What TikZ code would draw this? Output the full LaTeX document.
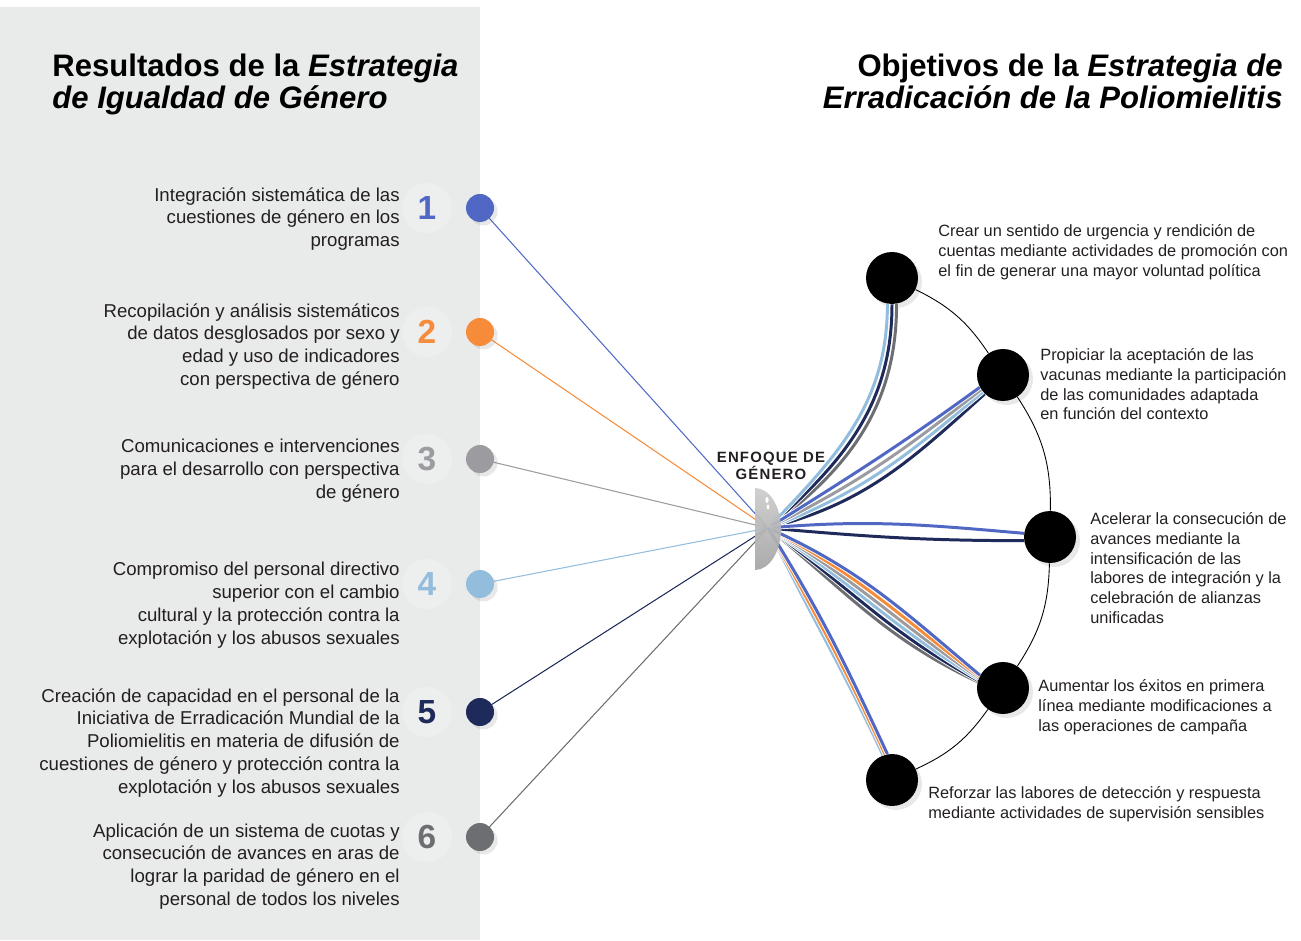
\documentclass[tikz,border=0pt]{standalone}
\usepackage{fontspec}
\setmainfont{Liberation Sans}
\usetikzlibrary{shadows}

\definecolor{azul}{RGB}{80,104,196}
\definecolor{naranja}{RGB}{246,139,58}
\definecolor{gris}{RGB}{156,156,160}
\definecolor{celeste}{RGB}{146,189,221}
\definecolor{marino}{RGB}{30,42,90}
\definecolor{plomo}{RGB}{109,110,114}
\definecolor{panel}{RGB}{233,234,234}
\definecolor{tinta}{RGB}{35,31,32}

\newcommand\txtizq{\fontsize{10.6}{13}\selectfont}
\newcommand\txtder{\fontsize{9.3}{11.3}\selectfont}
\newcommand\txttit{\fontsize{17.7}{18}\selectfont\bfseries}
\newcommand\txtnum{\fontsize{19}{19}\selectfont\bfseries}
\newcommand\txtlente{\fontsize{8.5}{9.6}\selectfont\bfseries\addfontfeatures{LetterSpace=8}}

\tikzset{
  punto/.style={circle, minimum size=0.56cm, inner sep=0pt,
    drop shadow={shadow xshift=0.07cm, shadow yshift=-0.07cm, opacity=0.18}},
  meta/.style={circle, fill=black, minimum size=1.04cm, inner sep=0pt,
    drop shadow={shadow xshift=0.08cm, shadow yshift=-0.08cm, opacity=0.18}},
  enlace/.style={line width=0.6pt},
  haz/.style={line width=1.7pt, preaction={draw=white, line width=2.7pt}},
  arco/.style={line width=0.5pt, black},
  izq/.style={font=\txtizq, text=tinta, align=right, anchor=north east, inner sep=0pt},
  der/.style={font=\txtder, text=tinta, align=left, anchor=north west, inner sep=0pt},
}

\begin{document}
\begin{tikzpicture}[x=0.02cm, y=0.02cm]
  \useasboundingbox (0,0) rectangle (1301,940);

  % Left panel
  \fill[panel] (0,0) rectangle (480,933);

  % Titles
  \node[font=\txttit, align=left, anchor=north west, inner sep=0pt] (titizq) at (52,886)
    {Resultados de la \textit{Estrategia}\\\textit{de Igualdad de Género}};
  \node[font=\txttit, align=right, anchor=north east, inner sep=0pt] (titder) at (1283,886)
    {Objetivos de la \textit{Estrategia de}\\\textit{Erradicación de la Poliomielitis}};

  % Focal point of the lens
  \coordinate (foco) at (768,412);

  % Outcome dots and numbers
  \foreach \i/\y/\c in {1/732/azul, 2/608/naranja, 3/481/gris, 4/356/celeste, 5/228/marino, 6/103/plomo} {
    \fill[white, opacity=0.22] (427,\y) circle[radius=25];
    \node[font=\txtnum, text=\c] (n\i) at (427,\y) {\i};
    \draw[enlace, \c] (480,\y) -- (foco);
    \node[punto, fill=\c] (r\i) at (480,\y) {};
  }

  % Outcome texts
  \node[izq] (t1) at (400,753) {Integración sistemática de las\\cuestiones de género en los\\programas};
  \node[izq] (t2) at (400,637) {Recopilación y análisis sistemáticos\\de datos desglosados por sexo y\\edad y uso de indicadores\\con perspectiva de género};
  \node[izq] (t3) at (400,501) {Comunicaciones e intervenciones\\para el desarrollo con perspectiva\\de género};
  \node[izq] (t4) at (400,378) {Compromiso del personal directivo\\superior con el cambio\\cultural y la protección contra la\\explotación y los abusos sexuales};
  \node[izq] (t5) at (400,252) {Creación de capacidad en el personal de la\\Iniciativa de Erradicación Mundial de la\\Poliomielitis en materia de difusión de\\cuestiones de género y protección contra la\\explotación y los abusos sexuales};
  \node[izq] (t6) at (400,117) {Aplicación de un sistema de cuotas y\\consecución de avances en aras de\\lograr la paridad de género en el\\personal de todos los niveles};

  % Objective dots
  \node[meta] (o1) at (892,662) {};
  \node[meta] (o2) at (1003,565) {};
  \node[meta] (o3) at (1050,403) {};
  \node[meta] (o4) at (1003,252) {};
  \node[meta] (o5) at (892,160) {};

  % Bundles from the lens to each objective
  \draw[haz, plomo] (foco) to[out=36, in=-90] (o1.-80);
  \draw[haz, marino] (foco) to[out=41, in=-90] (o1.-90);
  \draw[haz, celeste] (foco) to[out=46, in=-90] (o1.-100);

  \draw[haz, marino] (foco) to[out=14, in=-138] (o2.-134);
  \draw[haz, celeste] (foco) to[out=20, in=-140] (o2.-140);
  \draw[haz, gris] (foco) to[out=26, in=-142] (o2.-146);
  \draw[haz, azul] (foco) to[out=32, in=-144] (o2.-152);

  \draw[haz, marino] (foco) to[out=-5, in=180] (o3.188);
  \draw[haz, azul] (foco) to[out=5, in=175] (o3.172);

  \draw[haz, plomo] (foco) to[out=-39, in=155] (o4.166);
  \draw[haz, marino] (foco) to[out=-36, in=152] (o4.163);
  \draw[haz, celeste] (foco) to[out=-33, in=149] (o4.160);
  \draw[haz, gris] (foco) to[out=-30, in=146] (o4.157);
  \draw[haz, naranja] (foco) to[out=-27, in=143] (o4.154);
  \draw[haz, azul] (foco) to[out=-24, in=140] (o4.151);

  \draw[haz, celeste] (foco) to[out=-64, in=115] (o5.110);
  \draw[haz, naranja] (foco) to[out=-61, in=115] (o5.105);
  \draw[haz, azul] (foco) to[out=-58, in=115] (o5.100);

  % Arc through the objectives
  \draw[arco] (o1) to[bend left=15] (o2);
  \draw[arco] (o2) to[bend left=17] (o3);
  \draw[arco] (o3) to[bend left=16] (o4);
  \draw[arco] (o4) to[bend left=15] (o5);

  % Lens
  \shade[top color=gray!40, middle color=gray!10, bottom color=gray!72, opacity=0.92]
    (755,452) arc[start angle=90, end angle=-90, x radius=26, y radius=41] -- cycle;
  \fill[white] (767,440) ellipse[x radius=1.6, y radius=3];
  \fill[white] (768,433) ellipse[x radius=1.4, y radius=2.5];
  \node[font=\txtlente, align=center, text=tinta] (lente) at (771,474) {ENFOQUE DE\\GÉNERO};

  % Objective texts
  \node[der] (d1) at (938,716) {Crear un sentido de urgencia y rendición de\\cuentas mediante actividades de promoción con\\el fin de generar una mayor voluntad política};
  \node[der] (d2) at (1040,592) {Propiciar la aceptación de las\\vacunas mediante la participación\\de las comunidades adaptada\\en función del contexto};
  \node[der] (d3) at (1090,428) {Acelerar la consecución de\\avances mediante la\\intensificación de las\\labores de integración y la\\celebración de alianzas\\unificadas};
  \node[der] (d4) at (1038,261) {Aumentar los éxitos en primera\\línea mediante modificaciones a\\las operaciones de campaña};
  \node[der] (d5) at (928,154) {Reforzar las labores de detección y respuesta\\mediante actividades de supervisión sensibles};
\end{tikzpicture}
\end{document}
